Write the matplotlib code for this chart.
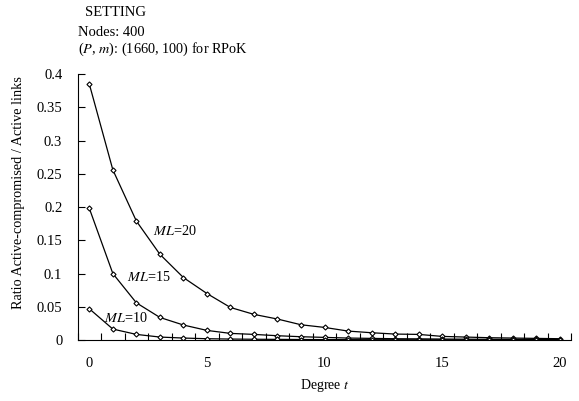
import matplotlib.pyplot as plt
import numpy as np

plt.rcParams['font.family'] = ['Liberation Serif', 'DejaVu Serif']
plt.rcParams['mathtext.fontset'] = 'stix'

degree = np.arange(0, 21)
ratio_ml20 = [0.385, 0.256, 0.179, 0.129, 0.094, 0.070, 0.049, 0.0386, 0.0316, 0.023,
              0.019, 0.0135, 0.011, 0.009, 0.0085, 0.0055, 0.0045, 0.0035, 0.003, 0.0025, 0.002]
ratio_ml15 = [0.198, 0.100, 0.056, 0.034, 0.0226, 0.0145, 0.010, 0.0085, 0.0065, 0.005,
              0.004, 0.003, 0.0025, 0.002, 0.0018, 0.0015, 0.0013, 0.0011, 0.001, 0.001, 0.0008]
ratio_ml10 = [0.047, 0.0165, 0.0085, 0.0045, 0.003, 0.002, 0.0015, 0.0012, 0.001, 0.0008,
              0.0007, 0.0006, 0.0005, 0.0005, 0.0004, 0.0004, 0.0003, 0.0003, 0.0003, 0.0002, 0.0002]

fig = plt.figure(figsize=(5.79, 4.01), dpi=100)
ax = fig.add_axes([0.134, 0.152, 0.853, 0.663])

for series in (ratio_ml20, ratio_ml15, ratio_ml10):
    ax.plot(degree, series, color='black', lw=0.9, marker='D', markersize=2.6,
            mfc='white', mec='black', mew=0.8)

ax.set_xlim(-0.5, 20.5)
ax.set_ylim(0, 0.4)
ax.set_xticks(np.arange(-0.5, 21, 1.0))
ax.set_xticklabels([])
ax.set_xticks([0, 5, 10, 15, 20], minor=True)
ax.set_xticklabels(['0', '5', '10', '15', '20'], minor=True)
ax.tick_params(axis='x', which='major', direction='in', length=5, width=0.8)
ax.tick_params(axis='x', which='minor', length=0, pad=12, labelsize=10.5)
ax.set_yticks(np.arange(0, 0.41, 0.05))
ax.set_yticklabels(['0', '0.05', '0.1', '0.15', '0.2', '0.25', '0.3', '0.35', '0.4'])
ax.tick_params(axis='y', direction='in', length=5, width=0.8, pad=11, labelsize=10.5)

for side in ('top', 'right'):
    ax.spines[side].set_visible(False)
for side in ('left', 'bottom'):
    ax.spines[side].set_linewidth(0.8)

ax.set_xlabel('Degree $t$', fontsize=10, labelpad=5)
ax.set_ylabel('Ratio Active-compromised / Active links', fontsize=10.3, labelpad=8, y=0.556)

ax.text(2.7, 0.1575, '$ML$=20', fontsize=10.3)
ax.text(1.6, 0.0895, '$ML$=15', fontsize=10.3)
ax.text(0.62, 0.0265, '$ML$=10', fontsize=10.3)

fig.text(0.147, 0.968, 'SETTING', fontsize=10.5, va='center')
fig.text(0.134, 0.920, 'Nodes: 400', fontsize=10.5, va='center')
fig.text(0.134, 0.878, '($P$, $m$): (1660, 100) for RPoK', fontsize=10.3, va='center')

fig.savefig('out.png', dpi=100)
